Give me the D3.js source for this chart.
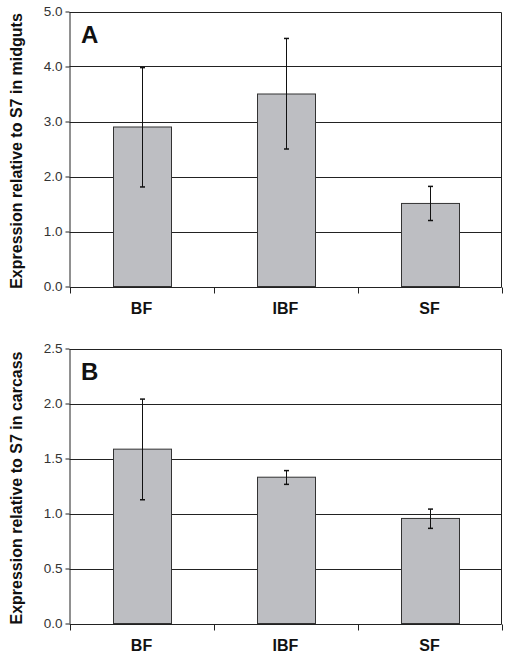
<!DOCTYPE html>
<html><head><meta charset="utf-8">
<script src="https://cdn.jsdelivr.net/npm/d3@7"></script>
<style>
body{margin:0;background:#fff;}
text{font-family:"Liberation Sans",Arial,sans-serif;}
</style></head>
<body><svg id="c" width="509" height="655"></svg>
<script>
const categories = ["BF","IBF","SF"];
const midgutMeans = [2.9, 3.5, 1.51];
const midgutLow = [1.81, 2.5, 1.2];
const midgutHigh = [3.98, 4.51, 1.82];
const carcassMeans = [1.585, 1.33, 0.955];
const carcassLow = [1.125, 1.265, 0.865];
const carcassHigh = [2.04, 1.39, 1.04];
const midgutTicks = [0,1,2,3,4,5];
const carcassTicks = [0,0.5,1,1.5,2,2.5];

const svg = d3.select("#c");

function panel(cfg){
  const g = svg.append("g");
  const x = d3.scaleBand().domain(categories).range([69.5, 501.5]).paddingInner(0.6).paddingOuter(0.3);
  const y = d3.scaleLinear().domain([0, cfg.max]).range([cfg.bottom, cfg.top]);
  g.selectAll(".grid").data(cfg.ticks.filter(t=>t>0)).join("line")
    .attr("x1",69.5).attr("x2",501.5)
    .attr("y1",d=>Math.round(y(d))+0.5).attr("y2",d=>Math.round(y(d))+0.5)
    .attr("stroke","#222").attr("stroke-width",1);
  g.append("line").attr("x1",501.5).attr("x2",501.5).attr("y1",Math.round(cfg.top)+0.5).attr("y2",Math.round(cfg.bottom)+0.5).attr("stroke","#222");
  g.selectAll(".bar").data(categories).join("rect")
    .attr("x",d=>Math.round(x(d))+0.5)
    .attr("width",Math.round(x.bandwidth()))
    .attr("y",(d,i)=>y(cfg.means[i]))
    .attr("height",(d,i)=>y(0)-y(cfg.means[i]))
    .attr("fill","#bdbec2").attr("stroke","#333").attr("stroke-width",1);
  const cx = d => Math.round(x(d)+x.bandwidth()/2)+0.5;
  g.selectAll(".err").data(categories).join("line")
    .attr("x1",cx).attr("x2",cx)
    .attr("y1",(d,i)=>y(cfg.low[i])).attr("y2",(d,i)=>y(cfg.high[i]))
    .attr("stroke","#111").attr("stroke-width",1);
  [cfg.low, cfg.high].forEach(arr=>{
    g.selectAll(null).data(categories).join("line")
      .attr("x1",d=>cx(d)-2.5).attr("x2",d=>cx(d)+2.5)
      .attr("y1",(d,i)=>y(arr[i])).attr("y2",(d,i)=>y(arr[i]))
      .attr("stroke","#111").attr("stroke-width",1.5);
  });
  const ya = g.append("g").attr("transform","translate(69.5,0)")
    .call(d3.axisLeft(y).tickValues(cfg.ticks).tickFormat(d3.format(".1f")).tickSize(4).tickPadding(3).tickSizeOuter(0));
  ya.select(".domain").attr("stroke","#222");
  ya.selectAll(".tick line").attr("stroke","#222");
  ya.selectAll(".tick text").attr("fill","#333").style("font-size","13.5px").style("font-family","'Liberation Sans',Arial,sans-serif");
  const xa = g.append("g").attr("transform",`translate(0,${Math.round(cfg.bottom)+0.5})`);
  xa.append("line").attr("x1",69.5).attr("x2",501.5).attr("stroke","#222");
  const bounds = d3.range(categories.length+1).map(i=>69.5 + i*(432/categories.length));
  xa.selectAll(".xt").data(bounds).join("line")
    .attr("x1",d=>Math.round(d)+0.5).attr("x2",d=>Math.round(d)+0.5).attr("y1",0).attr("y2",6).attr("stroke","#222");
  xa.selectAll(".xl").data(categories).join("text")
    .attr("x",d=>x(d)+x.bandwidth()/2).attr("y",26)
    .attr("text-anchor","middle").style("font-size","16px").style("font-weight","bold").attr("fill","#111")
    .text(d=>d);
  g.append("text").attr("x",81).attr("y",cfg.top+31).style("font-size","24px").style("font-weight","bold").attr("fill","#111").text(cfg.letter);
  g.append("text").attr("transform",`translate(22,${(cfg.top+cfg.bottom)/2+2}) rotate(-90)`)
    .attr("text-anchor","middle").style("font-size","16px").style("font-weight","bold").attr("fill","#111")
    .text(cfg.title);
}

panel({top:11.5, bottom:286.5, max:5, ticks:midgutTicks, means:midgutMeans, low:midgutLow, high:midgutHigh, letter:"A", title:"Expression relative to S7 in midguts"});
panel({top:348.5, bottom:623.5, max:2.5, ticks:carcassTicks, means:carcassMeans, low:carcassLow, high:carcassHigh, letter:"B", title:"Expression relative to S7 in carcass"});
</script></body></html>
